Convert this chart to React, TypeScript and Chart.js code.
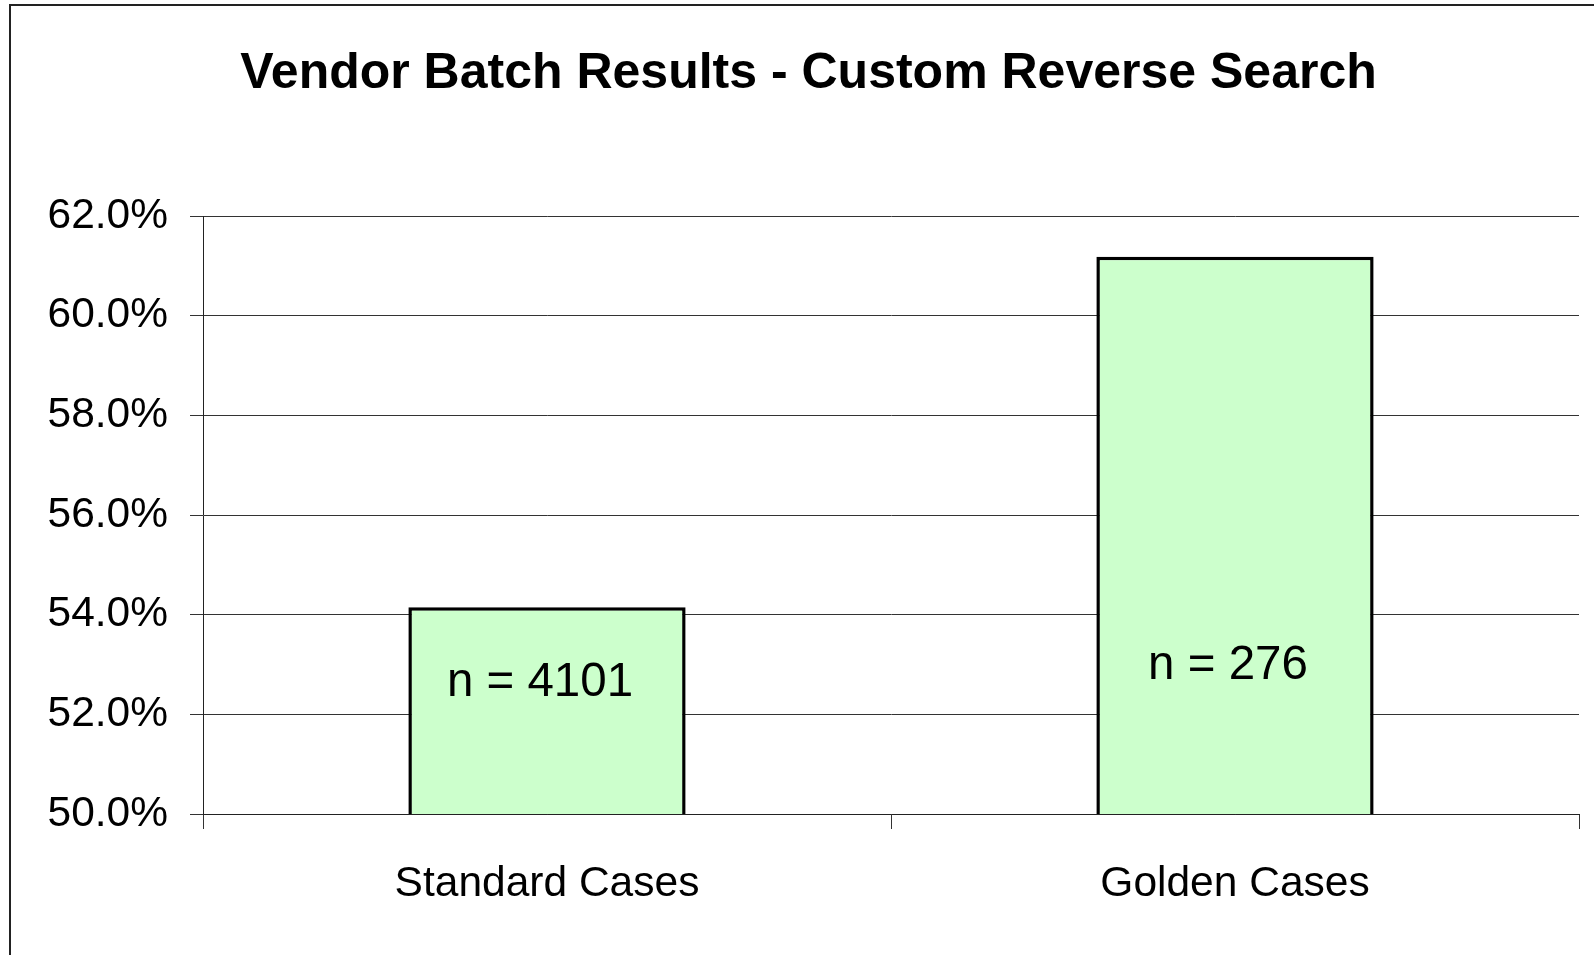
import React, { useEffect, useRef } from "react";
import { Chart, registerables } from "chart.js";

Chart.register(...registerables);

const titleText = "Vendor Batch Results - Custom Reverse Search";
const categories = ["Standard Cases", "Golden Cases"];
const successRates = [54.15, 61.18];
const sampleLabels = ["n = 4101", "n = 276"];
const sampleLabelAt = [52.64, 52.98];
const yMin = 50;
const yMax = 62;
const yStep = 2;

const FONT = "'Liberation Sans', Arial, Helvetica, sans-serif";

const framePlugin = {
  id: "frame",
  beforeDraw(chart: any) {
    const ctx = chart.ctx;
    ctx.save();
    ctx.fillStyle = "#ffffff";
    ctx.fillRect(0, 0, chart.width, chart.height);
    ctx.strokeStyle = "#222222";
    ctx.lineWidth = 2;
    ctx.beginPath();
    ctx.moveTo(10, chart.height + 2);
    ctx.lineTo(10, 5);
    ctx.lineTo(chart.width + 2, 5);
    ctx.stroke();
    ctx.restore();
  },
};

const nLabelPlugin = {
  id: "nLabels",
  afterDatasetsDraw(chart: any) {
    const ctx = chart.ctx;
    const meta = chart.getDatasetMeta(0);
    const yScale = chart.scales.y;
    ctx.save();
    ctx.font = `47.5px ${FONT}`;
    ctx.fillStyle = "#000000";
    ctx.textAlign = "center";
    ctx.textBaseline = "middle";
    meta.data.forEach((bar: any, i: number) => {
      ctx.fillText(sampleLabels[i], bar.x - 7, yScale.getPixelForValue(sampleLabelAt[i]));
    });
    ctx.restore();
  },
};

export default function App() {
  const ref = useRef<HTMLCanvasElement | null>(null);

  useEffect(() => {
    if (!ref.current) return;
    const chart = new Chart(ref.current, {
      type: "bar",
      data: {
        labels: categories,
        datasets: [
          {
            data: successRates,
            backgroundColor: "#CCFFCC",
            borderColor: "#000000",
            borderWidth: 3.5,
            borderSkipped: "bottom",
            barPercentage: 0.403,
            categoryPercentage: 1,
          },
        ],
      },
      options: {
        responsive: false,
        animation: false,
        devicePixelRatio: 1,
        layout: { padding: { left: 38, right: 15, top: 0, bottom: 0 } },
        plugins: {
          legend: { display: false },
          tooltip: { enabled: false },
          title: {
            display: true,
            text: titleText,
            color: "#000000",
            font: { family: FONT, size: 50, weight: "bold", lineHeight: 1.2 },
            padding: { top: 44, bottom: 112 },
          },
        },
        scales: {
          x: {
            offset: true,
            grid: {
              display: true,
              drawOnChartArea: false,
              drawTicks: true,
              tickLength: 15,
              color: "#333333",
              lineWidth: 1,
              offset: true,
            },
            border: { display: true, color: "#222222", width: 1 },
            ticks: {
              color: "#000000",
              font: { family: FONT, size: 42.5, lineHeight: 1.2 },
              padding: 30,
              maxRotation: 0,
            },
            afterFit(scale: any) {
              scale.height = 141;
            },
          },
          y: {
            min: yMin,
            max: yMax,
            grid: {
              color: "#333333",
              lineWidth: 1,
              tickLength: 13,
            },
            border: { display: true, color: "#222222", width: 1 },
            ticks: {
              stepSize: yStep,
              color: "#000000",
              font: { family: FONT, size: 42.5 },
              padding: 22,
              callback: (v: any) => Number(v).toFixed(1) + "%",
            },
            afterFit(scale: any) {
              scale.width = 165;
            },
          },
        },
      },
      plugins: [framePlugin, nLabelPlugin],
    } as any);
    return () => chart.destroy();
  }, []);

  return (
    <div style={{ position: "fixed", left: 0, top: 0, width: 1594, height: 955, background: "#fff" }}>
      <canvas ref={ref} width={1594} height={955} style={{ display: "block", width: 1594, height: 955 }} />
    </div>
  );
}
